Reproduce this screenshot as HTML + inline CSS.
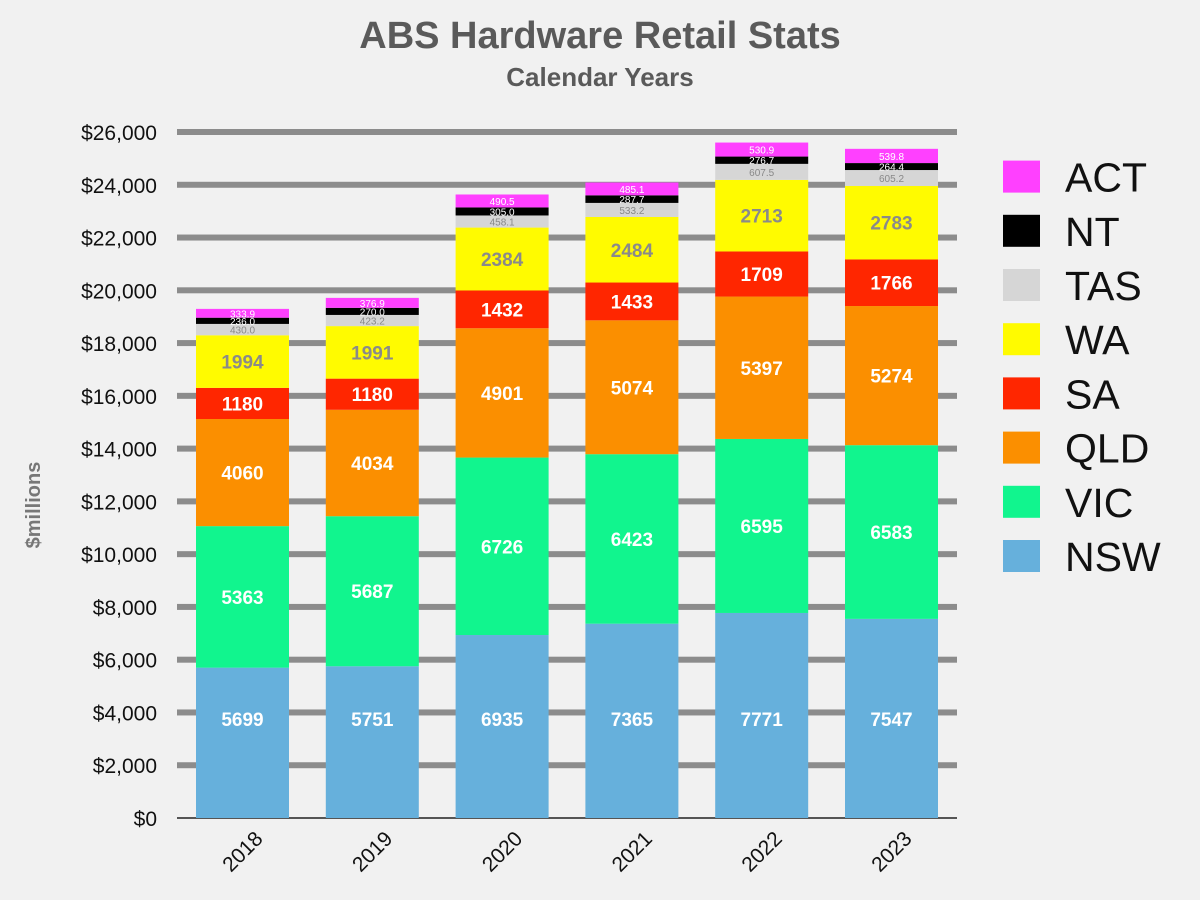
<!DOCTYPE html>
<html><head><meta charset="utf-8"><style>
body{margin:0;background:#f1f1f1;}
svg{display:block;font-family:"Liberation Sans",sans-serif;}
</style></head><body>
<svg id="c" width="1200" height="900" xmlns="http://www.w3.org/2000/svg">
<rect width="1200" height="900" fill="#f1f1f1"/>
<text x="600" y="48" text-anchor="middle" font-size="38" font-weight="bold" fill="#5a5a5a">ABS Hardware Retail Stats</text>
<text x="600" y="86" text-anchor="middle" font-size="26" font-weight="bold" fill="#5a5a5a">Calendar Years</text>
<text transform="translate(40,505) rotate(-90)" text-anchor="middle" font-size="20" font-weight="bold" fill="#777">$millions</text>
<g id="g"></g>
</svg>
<script>
const g=document.getElementById('g');
const y0=818,k=686/26000;
let h='';
for(let v=0;v<=26000;v+=2000){const y=y0-v*k;
 if(v>0)h+=`<rect x="177" y="${y-3}" width="780" height="6" fill="#8c8c8c"/>`;
 h+=`<text x="157" y="${y+8}" text-anchor="end" font-size="21" fill="#111">$${v.toLocaleString('en-US')}</text>`;}
h+=`<rect x="177" y="${y0-1}" width="780" height="2" fill="#555"/>`;
const cols=['#66b0dc','#11f58e','#fb8f00','#ff2600','#fffb00','#d6d6d6','#000','#ff40ff'];
const names=['NSW','VIC','QLD','SA','WA','TAS','NT','ACT'];
const data={2018:[5699,5363,4060,1180,1994,430.0,236,333.9],2019:[5751,5687,4034,1180,1991,423.2,270,376.9],
2020:[6935,6726,4901,1432,2384,458.1,305.0,490.5],2021:[7365,6423,5074,1433,2484,533.2,287.7,485.1],
2022:[7771,6595,5397,1709,2713,607.5,276.7,530.9],2023:[7547,6583,5274,1766,2783,605.2,264.4,539.8]};
let i=0;
for(const yr in data){const x=196+i*129.8;let acc=0;
 data[yr].forEach((v,j)=>{const yt=y0-(acc+v)*k,hh=v*k;
  h+=`<rect x="${x}" y="${yt}" width="93" height="${hh}" fill="${cols[j]}"/>`;
  let cy=yt+hh/2; if(j==0)cy=719;
  if(j<4)h+=`<text x="${x+46.5}" y="${cy+7}" text-anchor="middle" font-size="19" font-weight="bold" fill="#fff">${v}</text>`;
  else if(j==4)h+=`<text x="${x+46.5}" y="${cy+7}" text-anchor="middle" font-size="19" font-weight="bold" fill="#8a8a8a">${v}</text>`;
  else h+=`<text x="${x+46.5}" y="${cy+4}" text-anchor="middle" font-size="10" fill="${j==5?'#888':'#fff'}">${v.toFixed(1)}</text>`;
  acc+=v;});
 h+=`<text transform="translate(${x+68},${840}) rotate(-45)" text-anchor="end" font-size="21" fill="#111">${yr}</text>`;
 i++;}
for(let j=0;j<8;j++){const y=556-j*54.2;
 h+=`<rect x="1003" y="${y-16}" width="37" height="32" fill="${cols[j]}"/>`;
 h+=`<text x="1065" y="${y+15}" font-size="41" fill="#111">${names[j]}</text>`;}
g.innerHTML=h;
</script>
</body></html>
